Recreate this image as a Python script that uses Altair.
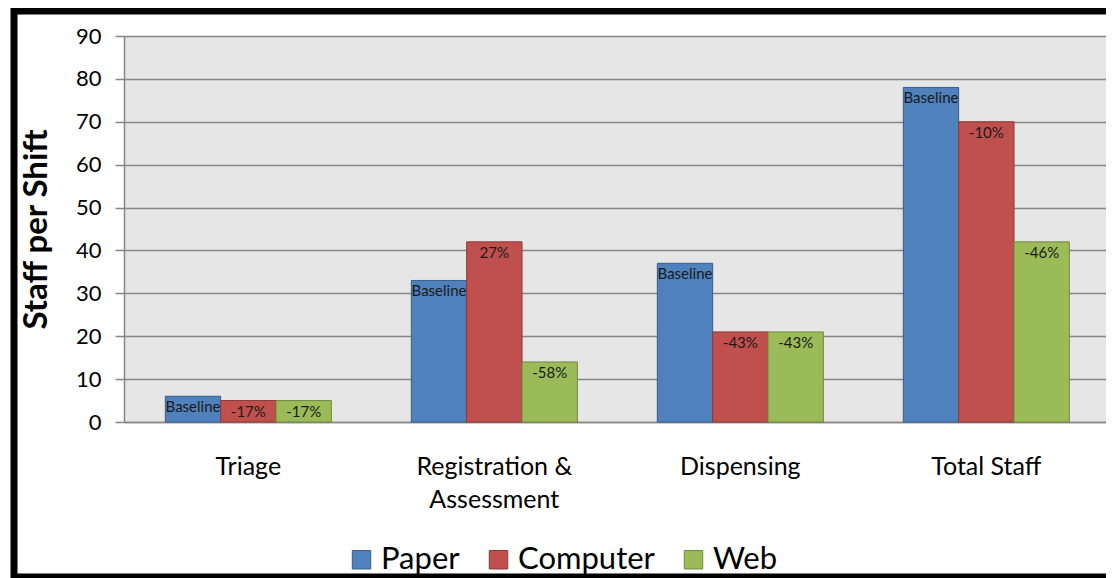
import altair as alt
import pandas as pd

categories = ["Triage", "Registration & Assessment", "Dispensing", "Total Staff"]
series = ["Paper", "Computer", "Web"]
paper = [6, 33, 37, 78]
computer = [5, 42, 21, 70]
web = [5, 14, 21, 42]
paper_labels = ["Baseline", "Baseline", "Baseline", "Baseline"]
computer_labels = ["-17%", "27%", "-43%", "-10%"]
web_labels = ["-17%", "-58%", "-43%", "-46%"]
colors = ["#4F81BD", "#C0504D", "#9BBB59"]
strokes = ["#385D8A", "#8C3836", "#71893F"]
y_ticks = [0, 10, 20, 30, 40, 50, 60, 70, 80, 90]

rows = []
for s, vals, labs in zip(series, [paper, computer, web], [paper_labels, computer_labels, web_labels]):
    for c, v, l in zip(categories, vals, labs):
        rows.append({"category": c, "series": s, "value": v, "label": l})
df = pd.DataFrame(rows)

FONT = "Lato"
GRID = "#868686"

x_enc = alt.X(
    "category:N",
    sort=categories,
    scale=alt.Scale(paddingInner=0.325, paddingOuter=0.1585, align=0.53),
    axis=alt.Axis(
        title=None,
        labelAngle=0,
        labelFont=FONT,
        labelFontSize=25,
        labelColor="black",
        labelPadding=44,
        labelLineHeight=33,
        labelBaseline="middle",
        ticks=False,
        domainColor=GRID,
        domainWidth=1.5,
        labelExpr="datum.value == 'Registration & Assessment' ? ['Registration &', 'Assessment'] : datum.label",
    ),
)
xoff = alt.XOffset("series:N", sort=series)
y_enc = alt.Y(
    "value:Q",
    scale=alt.Scale(domain=[0, 90], nice=False),
    axis=alt.Axis(
        values=y_ticks,
        title="Staff per Shift",
        titleFont=FONT,
        titleFontSize=33,
        titleFontWeight="bold",
        titleColor="black",
        titleX=-88,
        titleBaseline="middle",
        titleAngle=-90,
        labelFont=FONT,
        labelFontSize=22,
        labelColor="black",
        labelPadding=14,
        tickSize=9,
        tickColor=GRID,
        tickWidth=1.5,
        gridColor=GRID,
        gridWidth=1.5,
        domainColor=GRID,
        domainWidth=1.5,
    ),
)

bars = alt.Chart(df).mark_bar(strokeWidth=1).encode(
    x=x_enc,
    xOffset=xoff,
    y=y_enc,
    color=alt.Color(
        "series:N",
        sort=series,
        scale=alt.Scale(domain=series, range=colors),
        legend=alt.Legend(
            title=None,
            orient="none",
            legendX=222,
            legendY=508,
            direction="horizontal",
            symbolType="square",
            symbolSize=340,
            symbolStrokeWidth=1,
            symbolStrokeColor="#555555",
            labelFont=FONT,
            labelFontSize=31,
            labelColor="black",
            labelOffset=4,
            columnPadding=23,
        ),
    ),
    stroke=alt.Stroke("series:N", scale=alt.Scale(domain=series, range=strokes), legend=None),
)

texts = alt.Chart(df).mark_text(
    baseline="top", dy=4, font=FONT, fontSize=15, color="#1a1a1a"
).encode(
    x=alt.X("category:N", sort=categories),
    xOffset=xoff,
    y="value:Q",
    text="label:N",
)

frame = alt.Chart(alt.Data(values=[{"a": 1}])).mark_rect(
    fill="transparent", stroke="black", strokeWidth=7, clip=False
).encode(
    x=alt.value(-110),
    x2=alt.value(1100),
    y=alt.value(-25),
    y2=alt.value(541),
)

chart = alt.layer(bars, texts, frame).properties(
    width=982,
    height=386,
    autosize=alt.AutoSizeParams(type="none"),
    padding={"left": 116, "top": 28, "right": 0, "bottom": 156},
    background="white",
).configure_view(
    fill="#E6E6E6", stroke=None
)

chart.save("out.html", embed_options={"renderer": "svg", "actions": False})
